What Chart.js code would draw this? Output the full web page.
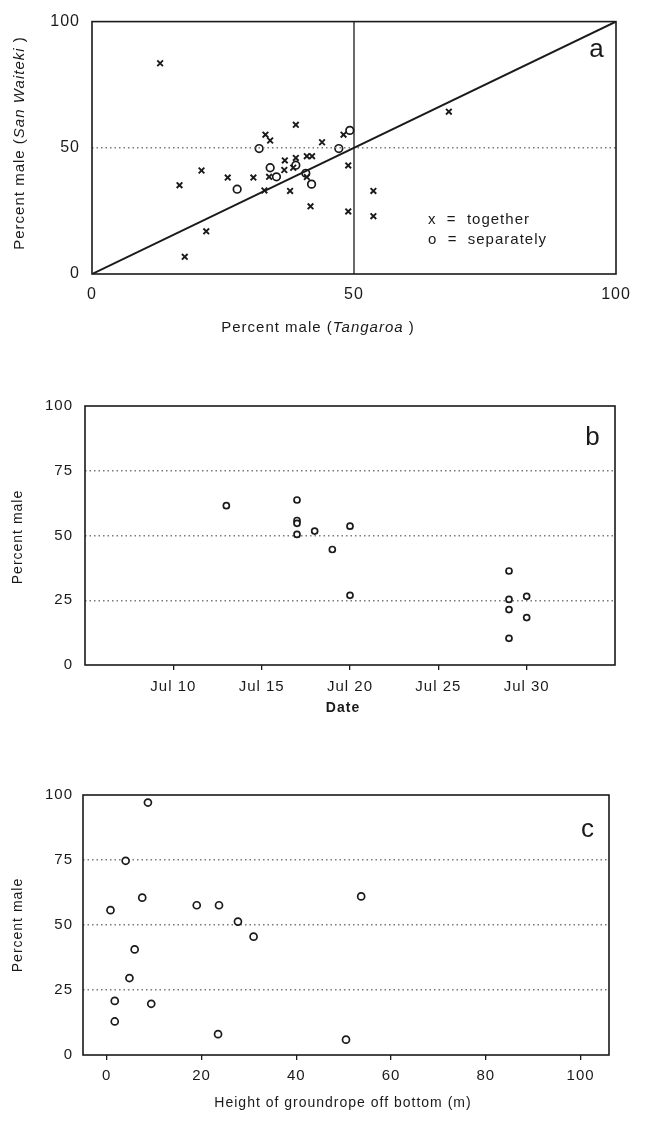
<!DOCTYPE html>
<html lang="en">
<head>
  <meta charset="UTF-8" />
  <title>Percent male</title>
  <script src="https://cdn.jsdelivr.net/npm/chart.js"></script>
  <style>
    body { margin: 0; background: #fff; }
    canvas { position: absolute; left: 0; }
  </style>
</head>
<body>
  <canvas id="chartA" width="646" height="345" style="top:0"></canvas>
  <canvas id="chartB" width="646" height="385" style="top:345px"></canvas>
  <canvas id="chartC" width="646" height="391" style="top:730px"></canvas>

  <script>
    // panel a : Tangaroa vs San Waiteki
    const togetherX = [13.0, 33.1, 34.0, 38.9, 43.9, 48.0, 48.9, 48.9, 20.9, 16.7, 25.9, 30.8, 32.9, 21.8,
                       17.7, 37.8, 41.7, 33.8, 36.8, 38.9, 36.7, 38.4, 41.0, 42.0, 41.0, 53.7, 53.7, 68.1];
    const togetherY = [83.5, 55.2, 52.9, 59.1, 52.2, 55.2, 43.0, 24.8, 41.0, 35.2, 38.2, 38.2, 33.1, 16.9,
                       6.8, 32.9, 26.8, 38.5, 45.0, 46.0, 41.2, 42.1, 46.7, 46.7, 38.4, 32.9, 22.9, 64.3];
    const separateX = [31.9, 34.0, 27.7, 47.1, 49.2, 38.9, 40.8, 41.9, 35.2];
    const separateY = [49.7, 42.1, 33.6, 49.7, 56.9, 43.1, 39.9, 35.6, 38.5];
    const ticksA = [0, 50, 100];

    // panel b : by date (day of July)
    const dateDay = [13, 17, 17, 17, 17, 18, 19, 20, 20, 29, 29, 29, 29, 30, 30];
    const datePct = [61.5, 63.7, 55.8, 54.7, 50.4, 51.7, 44.6, 53.6, 26.9, 36.3, 25.3, 21.4, 10.3, 26.5, 18.3];
    const dayTicks = [10, 15, 20, 25, 30];

    // panel c : groundrope height
    const ropeHeight = [8.7, 4.0, 7.5, 0.8, 19.0, 23.7, 27.7, 31.0, 5.9, 4.8, 1.7, 9.4, 1.7, 23.5, 50.5, 53.7];
    const ropePct = [97.1, 74.7, 60.5, 55.7, 57.6, 57.6, 51.3, 45.5, 40.6, 29.6, 20.8, 19.7, 12.9, 8.0, 5.9, 61.0];
    const heightTicks = [0, 20, 40, 60, 80, 100];
    const pctTicks = [0, 25, 50, 75, 100];

    const ink = '#1a1a1a';
    const FONT = '"Liberation Sans", Arial, sans-serif';
    const pts = (xs, ys) => xs.map((x, i) => ({ x, y: ys[i] }));

    // draws a line of text made of parts with different fonts
    function richText(ctx, t) {
      ctx.save();
      ctx.translate(t.x, t.y);
      if (t.rotate) ctx.rotate(t.rotate);
      ctx.fillStyle = ink;
      ctx.textBaseline = 'middle';
      ctx.textAlign = 'left';
      let w = 0;
      t.parts.forEach(p => { ctx.font = p[1]; w += ctx.measureText(p[0]).width; });
      let x = t.align === 'left' ? 0 : -w / 2;
      t.parts.forEach(p => { ctx.font = p[1]; ctx.fillText(p[0], x, 0); x += ctx.measureText(p[0]).width; });
      ctx.restore();
    }

    const paper = {
      id: 'paper',
      beforeDraw(chart) { chart.ctx.letterSpacing = '1px'; },
      afterDraw(chart, args, opts) {
        const { ctx, chartArea: a } = chart;
        ctx.save();
        ctx.strokeStyle = ink;
        ctx.lineWidth = 1.6;
        ctx.strokeRect(a.left, a.top, a.right - a.left, a.bottom - a.top);
        ctx.restore();
        (opts.texts || []).forEach(t => richText(ctx, t));
      }
    };
    Chart.register(paper);

    const tickFont = { family: FONT, size: 15 };
    const fixTicks = arr => s => { s.ticks = arr.map(v => ({ value: v })); };
    const dotted = c => [25, 50, 75].includes(c.tick.value) ? '#7a7a7a' : 'rgba(0,0,0,0)';
    const circles = { pointStyle: 'circle', pointRadius: 3, borderColor: ink, backgroundColor: '#fff', pointBorderWidth: 1.7 };

    function yPct(width, pad) {
      return {
        type: 'linear', min: 0, max: 100,
        afterBuildTicks: fixTicks(pctTicks),
        afterFit: s => { s.width = width; },
        ticks: { font: tickFont, color: ink, padding: pad },
        grid: { color: dotted, lineWidth: 1.4, drawTicks: false },
        border: { display: false, dash: [1.5, 3] }
      };
    }

    // ---------- a ----------
    new Chart(document.getElementById('chartA'), {
      type: 'scatter',
      data: {
        datasets: [
          { type: 'line', data: [{ x: 0, y: 0 }, { x: 100, y: 100 }], borderColor: ink, borderWidth: 2, pointRadius: 0 },
          { type: 'line', data: [{ x: 50, y: 0 }, { x: 50, y: 100 }], borderColor: ink, borderWidth: 1.3, pointRadius: 0 },
          { type: 'line', data: [{ x: 0, y: 50 }, { x: 100, y: 50 }], borderColor: '#7a7a7a', borderWidth: 1.4, borderDash: [1.5, 3], pointRadius: 0 },
          { label: 'together', data: pts(togetherX, togetherY), pointStyle: 'crossRot', pointRadius: 4, borderColor: ink, pointBorderWidth: 1.9 },
          Object.assign({ label: 'separately', data: pts(separateX, separateY) }, circles, { pointRadius: 3.8 })
        ]
      },
      options: {
        responsive: false, animation: false,
        layout: { padding: { top: 19, right: 30, left: 0, bottom: 0 } },
        plugins: {
          legend: { display: false }, tooltip: { enabled: false },
          paper: {
            texts: [
              { x: 20, y: 143, rotate: -Math.PI / 2, parts: [['Percent male (', '15px ' + FONT], ['San Waiteki', 'italic 15px ' + FONT], [' )', '15px ' + FONT]] },
              { x: 318, y: 328, parts: [['Percent male (', '15px ' + FONT], ['Tangaroa', 'italic 15px ' + FONT], [' )', '15px ' + FONT]] },
              { x: 428, y: 220, align: 'left', parts: [['x  =  together', '15px ' + FONT]] },
              { x: 428, y: 240, align: 'left', parts: [['o  =  separately', '15px ' + FONT]] },
              { x: 597, y: 50, parts: [['a', '26px ' + FONT]] }
            ]
          }
        },
        scales: {
          x: {
            type: 'linear', min: 0, max: 100,
            afterBuildTicks: fixTicks(ticksA),
            afterFit: s => { s.height = 71; },
            ticks: { font: { family: FONT, size: 16 }, color: ink, padding: 11, maxRotation: 0 },
            grid: { display: false, drawTicks: false }, border: { display: false }
          },
          y: {
            type: 'linear', min: 0, max: 100,
            afterBuildTicks: fixTicks(ticksA),
            afterFit: s => { s.width = 92; },
            ticks: { font: { family: FONT, size: 16 }, color: ink, padding: 12 },
            grid: { display: false, drawTicks: false }, border: { display: false }
          }
        }
      }
    });

    // ---------- b ----------
    new Chart(document.getElementById('chartB'), {
      type: 'scatter',
      data: { datasets: [Object.assign({ label: 'Percent male', data: pts(dateDay, datePct) }, circles)] },
      options: {
        responsive: false, animation: false,
        layout: { padding: { top: 61, right: 31, left: 0, bottom: 0 } },
        plugins: {
          legend: { display: false }, tooltip: { enabled: false },
          paper: {
            texts: [
              { x: 18, y: 192, rotate: -Math.PI / 2, parts: [['Percent male', '14px ' + FONT]] },
              { x: 343, y: 363, parts: [['Date', 'bold 14px ' + FONT]] },
              { x: 593, y: 93, parts: [['b', '26px ' + FONT]] }
            ]
          }
        },
        scales: {
          x: {
            type: 'linear', min: 5, max: 35,
            afterBuildTicks: fixTicks(dayTicks),
            afterFit: s => { s.height = 65; },
            ticks: { font: tickFont, color: ink, padding: 8, autoSkip: false, maxRotation: 0, callback: v => 'Jul ' + v },
            grid: { drawOnChartArea: false, drawTicks: true, tickLength: 5, color: ink, lineWidth: 1.3 },
            border: { display: false }
          },
          y: yPct(85, 12)
        }
      }
    });

    // ---------- c ----------
    new Chart(document.getElementById('chartC'), {
      type: 'scatter',
      data: { datasets: [Object.assign({ label: 'Percent male', data: pts(ropeHeight, ropePct) }, circles, { pointRadius: 3.5 })] },
      options: {
        responsive: false, animation: false,
        layout: { padding: { top: 65, right: 37, left: 0, bottom: 0 } },
        plugins: {
          legend: { display: false }, tooltip: { enabled: false },
          paper: {
            texts: [
              { x: 18, y: 195, rotate: -Math.PI / 2, parts: [['Percent male', '14px ' + FONT]] },
              { x: 343, y: 373, parts: [['Height of groundrope off bottom (m)', '14px ' + FONT]] },
              { x: 588, y: 100, parts: [['c', '26px ' + FONT]] }
            ]
          }
        },
        scales: {
          x: {
            type: 'linear', min: -5, max: 106,
            afterBuildTicks: fixTicks(heightTicks),
            afterFit: s => { s.height = 66; },
            ticks: { font: tickFont, color: ink, padding: 7, autoSkip: false, maxRotation: 0 },
            grid: { drawOnChartArea: false, drawTicks: true, tickLength: 5, color: ink, lineWidth: 1.3 },
            border: { display: false }
          },
          y: yPct(83, 10)
        }
      }
    });
  </script>
</body>
</html>
